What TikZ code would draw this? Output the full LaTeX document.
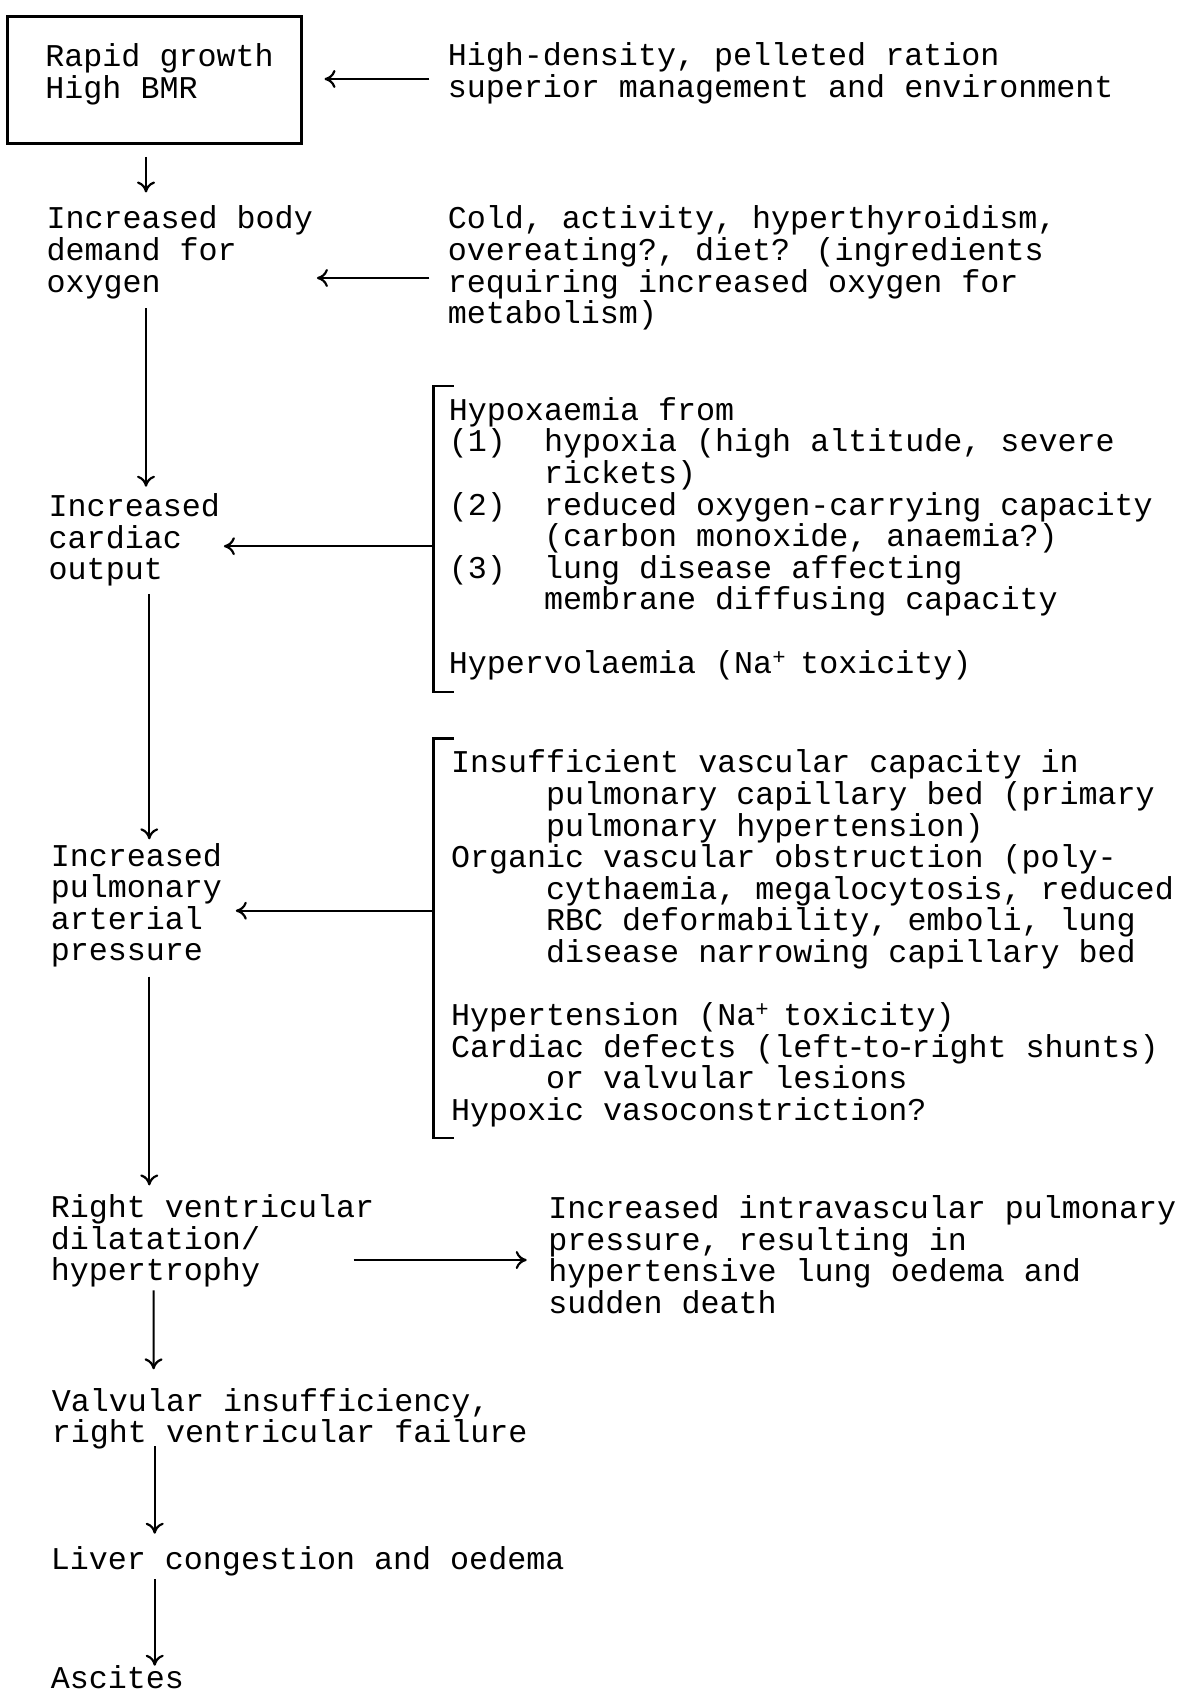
\documentclass[tikz,border=0pt]{standalone}
\usepackage{fontspec}
\newfontfamily\cour{Liberation Mono}
\usetikzlibrary{arrows.meta,calc}
\newcommand\tstrut{\rule{0pt}{31.5pt}}
\newcommand\ind{\hphantom{xxxxx}}
\newcommand\nap{Na\makebox[9pt][l]{\textsuperscript{+}}}
\newcommand\nh{\makebox[11.5pt]{-}}
\tikzset{
  txt/.style={anchor=north west, inner sep=0pt, outer sep=0pt, align=left,
    font=\cour\fontsize{31.7pt}{31.6pt}\selectfont},
  arr/.style={line width=2.2pt, -{To[length=11pt,width=18pt]}},
  brk/.style={line width=2.5pt},
}
\begin{document}
\begin{tikzpicture}[x=1pt,y=-1pt]
\useasboundingbox (0,0) rectangle (1180,1696);
\fill[white] (0,0) rectangle (1180,1696);
\clip (0,0) rectangle (1180,1696);

\node[draw, line width=3pt, minimum width=294.2pt, minimum height=127.7pt,
      anchor=north west, inner sep=0pt, outer sep=0pt] (box) at (7.6,16.2) {};
\node[txt] (boxtxt) at (45.4,35) {\tstrut Rapid growth\\High BMR};
\node[txt] (r1) at (447.8,34) {\tstrut High-density, pelleted ration\\superior management and environment};
\node[txt] (demand) at (46.5,197.4) {\tstrut Increased body\\demand for\\oxygen};
\node[txt] (r2) at (447.8,197.4) {\tstrut Cold, activity, hyperthyroidism,\\overeating?, diet? (ingredients\\requiring increased oxygen for\\metabolism)};
\node[txt] (cardiac) at (48.7,485) {\tstrut Increased\\cardiac\\output};
\node[txt] (b1txt) at (448.9,388.8) {\tstrut Hypoxaemia from\\(1)\hphantom{xx}hypoxia (high altitude, severe\\\ind rickets)\\(2)\hphantom{xx}reduced oxygen-carrying capacity\\\ind (carbon monoxide, anaemia?)\\(3)\hphantom{xx}lung disease affecting\\\ind membrane diffusing capacity\\[31.6pt]Hypervolaemia (\nap{} toxicity)};
\node[txt] (pulm) at (50.8,834.5) {\tstrut Increased\\pulmonary\\arterial\\pressure};
\node[txt] (b2txt) at (451,741.4) {\tstrut Insufficient vascular capacity in\\\ind pulmonary capillary bed (primary\\\ind pulmonary hypertension)\\Organic vascular obstruction (poly-\\\ind cythaemia, megalocytosis, reduced\\\ind RBC deformability, emboli, lung\\\ind disease narrowing capillary bed\\[31.6pt]Hypertension (\nap{} toxicity)\\Cardiac defects (left\nh to\nh right shunts)\\\ind or valvular lesions\\Hypoxic vasoconstriction?};
\node[txt] (rv) at (50.8,1186) {\tstrut Right ventricular\\dilatation/\\hypertrophy};
\node[txt] (sud) at (548.4,1187) {\tstrut Increased intravascular pulmonary\\pressure, resulting in\\hypertensive lung oedema and\\sudden death};
\node[txt] (valv) at (51.9,1379.6) {\tstrut Valvular insufficiency,\\right ventricular failure};
\node[txt] (liver) at (50.8,1537.5) {\tstrut Liver congestion and oedema};
\node[txt] (asc) at (50.8,1657) {\tstrut Ascites};

% side arrows
\draw[arr] ($(r1.north west)+(-18.4,45)$) -- ($(box.north east)+(22.7,62.8)$);
\draw[arr] ($(r2.north west)+(-18.4,80.6)$) -- ($(demand.north west)+(270.4,80.6)$);
% brackets
\draw[brk] ($(b1txt.north west)+(5,-2.7)$) -| ($(b1txt.north west)+(-15.2,303.4)$) -- ++(20.3,0);
\draw[arr] ($(b1txt.north west)+(-15.2,157.4)$) -- ($(cardiac.north west)+(175.2,61.2)$);
\draw[brk] ($(b2txt.north west)+(3,-2.7)$) -| ($(b2txt.north west)+(-17.3,396.4)$) -- ++(20.3,0);
\draw[arr] ($(b2txt.north west)+(-17.3,169.3)$) -- ($(pulm.north west)+(185,76.2)$);
% main chain
\draw[arr] ($(box.south)+(-8.7,12.9)$) -- ($(demand.north west)+(99.5,-4.9)$);
\draw[arr] ($(demand.north west)+(99.5,110.6)$) -- ($(cardiac.north west)+(97.3,1.7)$);
\draw[arr] ($(cardiac.north west)+(100.6,108.8)$) -- ($(pulm.north west)+(98.5,4.8)$);
\draw[arr] ($(pulm.north west)+(98.5,142.2)$) -- ($(rv.north west)+(98.5,-0.6)$);
\draw[arr] ($(rv.north west)+(302.9,74)$) -- ($(sud.north west)+(-21.7,73)$);
\draw[arr] ($(rv.north west)+(102.8,104.4)$) -- ($(valv.north west)+(101.7,-10.3)$);
\draw[arr] ($(valv.north west)+(102.8,66.4)$) -- ($(liver.north west)+(103.9,-3.8)$);
\draw[arr] ($(liver.north west)+(103.9,41.5)$) -- ($(asc.north west)+(103.9,8.7)$);
\end{tikzpicture}
\end{document}
